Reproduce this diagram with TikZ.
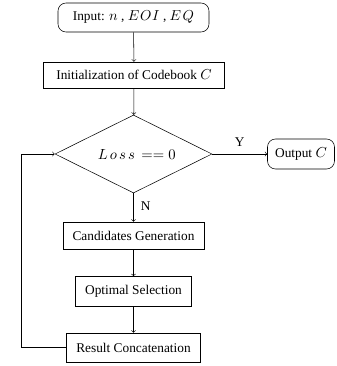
\documentclass[tikz,border=0pt]{standalone}
\usepackage{fontspec}
\usepackage{graphicx}
\setmainfont{Liberation Serif}
\usetikzlibrary{shapes.geometric}
\begin{document}
\begin{tikzpicture}[x=0.75pt,y=-0.75pt,
  box/.style={draw,rectangle,inner sep=0pt,font=\fontsize{10}{12}\selectfont},
  term/.style={box,rounded corners=6pt},
  dec/.style={draw,diamond,aspect=2,inner sep=0pt,font=\fontsize{10}{12}\selectfont},
  flow/.style={->},
  lbl/.style={font=\fontsize{10}{12}\selectfont}]
\useasboundingbox (0,0) rectangle (336,366);
\node[term,minimum width=151*0.75pt,minimum height=29*0.75pt] (in) at (133.5,17.5) {Input: \scalebox{1.08}{$n$} , \scalebox{1.08}{$E\mkern1mu O\mkern1mu I$} , \scalebox{1.08}{$E\mkern2mu Q$}};
\node[box,minimum width=181*0.75pt,minimum height=26*0.75pt] (init) at (134,75) {Initialization of Codebook \scalebox{1.08}{$C$}};
\node[dec,minimum width=157*0.75pt,minimum height=78*0.75pt] (d) at (133.5,154) {\hspace{5pt}\scalebox{1.1}{$L\mkern2.5mu o\mkern2.5mu s\mkern2.5mu s\mkern3mu == 0$}};
\node[term,minimum width=67*0.75pt,minimum height=30*0.75pt] (out) at (301,154) {Output \scalebox{1.08}{$C$}};
\node[box,minimum width=141*0.75pt,minimum height=27*0.75pt] (cand) at (133.5,235.5) {Candidates Generation};
\node[box,minimum width=116*0.75pt,minimum height=30*0.75pt] (opt) at (133.5,291.5) {Optimal Selection};
\node[box,minimum width=134*0.75pt,minimum height=29*0.75pt] (res) at (133.5,347.5) {Result Concatenation};
\coordinate (lb) at (21,347.5);
\coordinate (lt) at (21,154);
\draw[flow] (in) -- (init);
\draw[flow] (init) -- (d);
\draw[flow] (d) -- node[lbl,above,pos=0.5,yshift=2pt] (y) {Y} (out);
\draw[flow] (d) -- node[lbl,right,pos=0.45,xshift=2pt] (n) {N} (cand);
\draw[flow] (cand) -- (opt);
\draw[flow] (opt) -- (res);
\draw[flow] (res.west) -- (lb) -- (lt) -- (d.west);
\end{tikzpicture}
\end{document}
